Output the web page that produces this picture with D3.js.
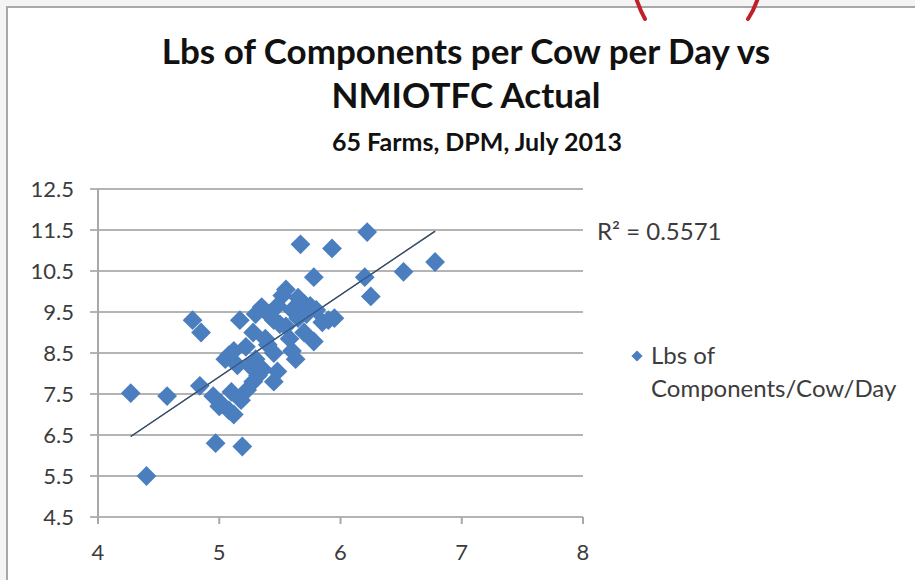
<!DOCTYPE html>
<html>
<head>
<meta charset="utf-8">
<script src="https://cdn.jsdelivr.net/npm/d3@7/dist/d3.min.js"></script>
<style>
  html, body { margin: 0; padding: 0; background: #f4f4f4; }
  svg { display: block; }
</style>
</head>
<body>
<svg id="chart" width="915" height="580"></svg>
<script>
// NMIOTFC actual (x) vs lbs of components per cow per day (y), 65 farms
const nmiotfc = [
  4.27, 4.40, 4.57, 4.78, 4.85, 4.84, 4.97, 5.19, 5.67, 5.93,
  6.22, 6.52, 6.78, 6.20, 6.25, 5.78, 5.95, 5.90, 5.55, 5.52,
  5.35, 5.42, 5.17, 5.28, 5.45, 5.60, 5.70, 5.75, 5.80, 5.65,
  5.70, 5.78, 5.60, 5.63, 5.55, 5.38, 5.22, 5.12, 5.08, 5.15,
  5.30, 5.45, 5.36, 5.48, 5.28, 5.45, 5.23, 5.10, 4.95, 5.02,
  5.08, 5.12, 5.00, 5.18, 5.32, 5.85, 5.48, 5.30, 5.40, 5.25,
  5.58, 5.65, 5.05, 5.50, 5.72
];
const lbsComponents = [
  7.52, 5.50, 7.45, 9.30, 9.00, 7.70, 6.30, 6.22, 11.15, 11.05,
  11.45, 10.48, 10.72, 10.35, 9.88, 10.35, 9.35, 9.30, 10.05, 9.90,
  9.62, 9.40, 9.30, 9.00, 9.30, 9.55, 9.70, 9.65, 9.55, 9.35,
  9.00, 8.78, 8.55, 8.35, 9.15, 8.85, 8.65, 8.55, 8.45, 8.20,
  8.35, 8.50, 8.10, 8.05, 7.80, 7.80, 7.60, 7.55, 7.45, 7.25,
  7.10, 7.00, 7.20, 7.35, 7.95, 9.25, 9.65, 9.45, 8.70, 8.20,
  8.85, 9.85, 8.35, 9.20, 9.45
];
const xTicks = [4, 5, 6, 7, 8];
const yTicks = [4.5, 5.5, 6.5, 7.5, 8.5, 9.5, 10.5, 11.5, 12.5];
const titleLines = ["Lbs of Components per Cow per Day vs", "NMIOTFC Actual"];
const subtitle = "65 Farms, DPM, July 2013";
const seriesName = ["Lbs of", "Components/Cow/Day"];
const rSquaredText = "R\u00b2 = 0.5571";

const svg = d3.select("#chart");
const font = "Lato, 'Open Sans', sans-serif";
const textColor = "#3c3c3c";

// chart frame
svg.append("rect").attr("x", 7).attr("y", 7).attr("width", 920).attr("height", 590)
  .attr("fill", "#ffffff").attr("stroke", "#a8a8a8").attr("stroke-width", 2);

// red annotation arc peeking in at the top edge
svg.append("path")
  .attr("d", "M636,-2 Q640,10 645,19 M758,-2 Q754,10 748,19")
  .attr("fill", "none").attr("stroke", "#c0202a").attr("stroke-width", 4)
  .attr("stroke-linecap", "round");

const x = d3.scaleLinear().domain([4, 8]).range([98, 583]);
const y = d3.scaleLinear().domain([4.5, 12.5]).range([517, 189]);

// horizontal gridlines with left tick marks
svg.append("g").selectAll("line").data(yTicks).join("line")
  .attr("x1", 90).attr("x2", x(8))
  .attr("y1", d => y(d)).attr("y2", d => y(d))
  .attr("stroke", "#b4b4b4").attr("stroke-width", 2);

// vertical axis line
svg.append("line").attr("x1", x(4)).attr("x2", x(4))
  .attr("y1", y(12.5)).attr("y2", y(4.5) + 6)
  .attr("stroke", "#a8a8a8").attr("stroke-width", 2);

// x tick marks below the bottom gridline
svg.append("g").selectAll("line").data(xTicks).join("line")
  .attr("x1", d => x(d)).attr("x2", d => x(d))
  .attr("y1", y(4.5)).attr("y2", y(4.5) + 7)
  .attr("stroke", "#a8a8a8").attr("stroke-width", 2);

// tick labels
svg.append("g").selectAll("text").data(yTicks).join("text")
  .attr("x", 74).attr("y", d => y(d)).attr("dy", "0.35em")
  .attr("text-anchor", "end").attr("font-family", font).attr("font-size", 22)
  .attr("fill", textColor).text(d => d.toFixed(1));
svg.append("g").selectAll("text").data(xTicks).join("text")
  .attr("x", d => x(d)).attr("y", 552).attr("dy", "0.35em")
  .attr("text-anchor", "middle").attr("font-family", font).attr("font-size", 22)
  .attr("fill", textColor).text(d => d);

// least-squares trend line over the data range
const pts = nmiotfc.map((v, i) => [v, lbsComponents[i]]);
const mx = d3.mean(pts, p => p[0]), my = d3.mean(pts, p => p[1]);
const slope = d3.sum(pts, p => (p[0] - mx) * (p[1] - my)) / d3.sum(pts, p => (p[0] - mx) ** 2);
const icpt = my - slope * mx;
const [xmin, xmax] = d3.extent(nmiotfc);
const trend = g => g.append("line")
  .attr("x1", x(xmin)).attr("y1", y(icpt + slope * xmin))
  .attr("x2", x(xmax)).attr("y2", y(icpt + slope * xmax));
trend(svg).attr("stroke", "#4a4a4a").attr("stroke-width", 1.3);

// diamond markers
const diamond = d3.symbol().type(d3.symbolDiamond2).size(250);
svg.append("g").selectAll("path").data(pts).join("path")
  .attr("transform", p => `translate(${x(p[0])},${y(p[1])})`)
  .attr("d", diamond).attr("fill", "#4a7ebf");

// trend line shows through the cluster
trend(svg).attr("stroke", "#2f4f7a").attr("stroke-width", 1.2).attr("opacity", 0.8);

// R squared label
svg.append("text").attr("x", 597).attr("y", 232).attr("dy", "0.35em")
  .attr("font-family", font).attr("font-size", 24).attr("fill", textColor)
  .text(rSquaredText);

// legend
svg.append("path").attr("transform", "translate(637,356)")
  .attr("d", d3.symbol().type(d3.symbolDiamond2).size(80)).attr("fill", "#4a7ebf");
svg.append("g").selectAll("text").data(seriesName).join("text")
  .attr("x", 651).attr("y", (d, i) => 356 + i * 33).attr("dy", "0.35em")
  .attr("font-family", font).attr("font-size", 24).attr("fill", textColor)
  .text(d => d);

// titles
svg.append("g").selectAll("text").data(titleLines).join("text")
  .attr("x", 466).attr("y", (d, i) => 52 + i * 44).attr("dy", "0.35em")
  .attr("text-anchor", "middle").attr("font-family", font).attr("font-weight", "bold")
  .attr("font-size", 35).attr("fill", "#111").text(d => d);
svg.append("text").attr("x", 477).attr("y", 142).attr("dy", "0.35em")
  .attr("text-anchor", "middle").attr("font-family", font).attr("font-weight", "bold")
  .attr("font-size", 25).attr("fill", "#111").text(subtitle);
</script>
</body>
</html>
